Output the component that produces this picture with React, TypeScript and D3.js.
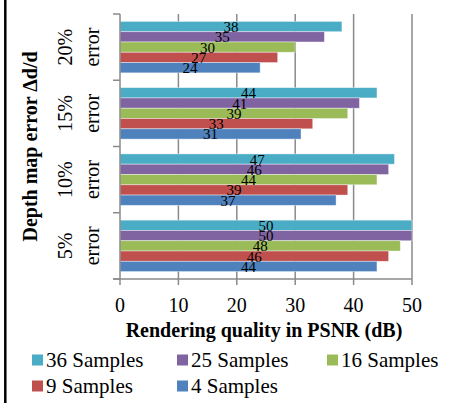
import React from "react";
import * as d3 from "d3";

const categories = ["20%", "15%", "10%", "5%"];
const seriesNames = ["36 Samples", "25 Samples", "16 Samples", "9 Samples", "4 Samples"];
const seriesColors = ["#4BACC6", "#8064A2", "#9BBB59", "#C0504D", "#4F81BD"];
const s36 = [38, 44, 47, 50];
const s25 = [35, 41, 46, 50];
const s16 = [30, 39, 44, 48];
const s9 = [27, 33, 39, 46];
const s4 = [24, 31, 37, 44];
const seriesValues = [s36, s25, s16, s9, s4];
const xTicks = [0, 10, 20, 30, 40, 50];
const legendOrder = [
  { name: seriesNames[0], color: seriesColors[0], col: 0, row: 0 },
  { name: seriesNames[1], color: seriesColors[1], col: 1, row: 0 },
  { name: seriesNames[2], color: seriesColors[2], col: 2, row: 0 },
  { name: seriesNames[3], color: seriesColors[3], col: 0, row: 1 },
  { name: seriesNames[4], color: seriesColors[4], col: 1, row: 1 },
];

const W = 450;
const H = 403;
const left = 120;
const right = 412;
const top = 14;
const bottom = 279;
const font = "'Liberation Serif', 'Times New Roman', serif";

export default function App() {
  const x = d3.scaleLinear().domain([0, 50]).range([left, right]);
  const y0 = d3.scaleBand<string>().domain(categories).range([top, bottom]).padding(0);
  const y1 = d3
    .scaleBand<string>()
    .domain(seriesNames)
    .range([0, y0.bandwidth()])
    .paddingInner(0)
    .paddingOuter(0.72);
  const grid = "#8a8a8a";
  const colX = [32, 177, 327];
  const rowY = [360, 386];

  return (
    <svg
      width={W}
      height={H}
      style={{ position: "absolute", left: 0, top: 0, background: "#fff" }}
      fontFamily={font}
    >
      <rect x={0} y={0} width={W} height={H} fill="#fff" />
      <line x1={5.3} x2={5.3} y1={0} y2={H} stroke="#000" strokeWidth={2.5} />

      {/* gridlines */}
      {xTicks.slice(1).map((t) => (
        <line key={t} x1={x(t)} x2={x(t)} y1={top} y2={bottom} stroke={grid} strokeWidth={1.5} />
      ))}

      {/* bars */}
      {categories.map((c, ci) => (
        <g key={c} transform={`translate(0,${y0(c)})`}>
          {seriesNames.map((s, si) => (
            <rect
              key={s}
              x={x(0)}
              y={y1(s)}
              width={x(seriesValues[si][ci]) - x(0)}
              height={y1.bandwidth()}
              fill={seriesColors[si]}
              stroke="#ffffff"
              strokeOpacity={0.5}
              strokeWidth={0.8}
            />
          ))}
        </g>
      ))}

      {/* data labels */}
      {categories.map((c, ci) => (
        <g key={"l" + c} transform={`translate(0,${y0(c)})`}>
          {seriesNames.map((s, si) => (
            <text
              key={s}
              x={(x(seriesValues[si][ci]) + x(0)) / 2}
              y={(y1(s) as number) + y1.bandwidth() / 2 + 5.5}
              textAnchor="middle"
              fontSize={15}
              fill="#000"
            >
              {seriesValues[si][ci]}
            </text>
          ))}
        </g>
      ))}

      {/* axes */}
      <line x1={left} x2={left} y1={top} y2={bottom} stroke={grid} strokeWidth={1.5} />
      <line x1={left - 7} x2={right} y1={bottom} y2={bottom} stroke={grid} strokeWidth={1.5} />
      {[top, ...categories.map((c) => (y0(c) as number) + y0.bandwidth())].map((v, i) => (
        <line key={"yt" + i} x1={left - 7} x2={left} y1={v} y2={v} stroke={grid} strokeWidth={1.5} />
      ))}
      {xTicks.map((t) => (
        <line key={"xt" + t} x1={x(t)} x2={x(t)} y1={bottom} y2={bottom + 6} stroke={grid} strokeWidth={1.5} />
      ))}
      {xTicks.map((t) => (
        <text key={"xl" + t} x={x(t)} y={312} textAnchor="middle" fontSize={20} fill="#000">
          {t}
        </text>
      ))}

      {/* category labels */}
      {categories.map((c) => {
        const cy = (y0(c) as number) + y0.bandwidth() / 2;
        return (
          <g key={"cl" + c}>
            <text transform={`translate(72,${cy}) rotate(-90)`} textAnchor="middle" fontSize={20} fill="#000">
              {c}
            </text>
            <text transform={`translate(99,${cy}) rotate(-90)`} textAnchor="middle" fontSize={20} fill="#000">
              error
            </text>
          </g>
        );
      })}

      {/* axis titles */}
      <text
        transform={`translate(37,${(top + bottom) / 2}) rotate(-90)`}
        textAnchor="middle"
        fontSize={20}
        fontWeight="bold"
        fill="#000"
      >
        Depth map error Δd/d
      </text>
      <text x={264} y={337} textAnchor="middle" fontSize={20} fontWeight="bold" fill="#000">
        Rendering quality in PSNR (dB)
      </text>

      {/* legend */}
      {legendOrder.map((l) => (
        <g key={l.name}>
          <rect x={colX[l.col]} y={rowY[l.row] - 5.5} width={11} height={11} fill={l.color} />
          <text x={colX[l.col] + 14} y={rowY[l.row] + 7} fontSize={21} fill="#000">
            {l.name}
          </text>
        </g>
      ))}
    </svg>
  );
}
